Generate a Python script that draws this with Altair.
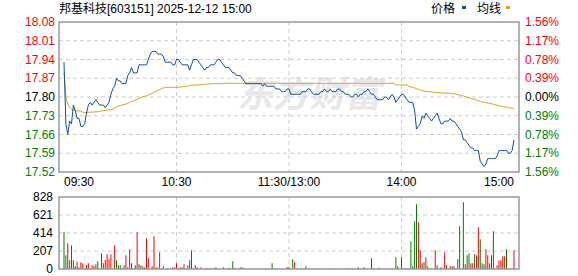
import altair as alt
import pandas as pd

# ---------------- data ----------------
minutes = list(range(241))

price = [
    17.93, 17.70, 17.66, 17.71, 17.70, 17.77, 17.75, 17.72, 17.72, 17.69,
    17.69, 17.70, 17.74, 17.77, 17.78, 17.77, 17.78, 17.79, 17.78, 17.77,
    17.77, 17.77, 17.76, 17.77, 17.78, 17.81, 17.83, 17.84, 17.87, 17.86,
    17.86, 17.85, 17.85, 17.85, 17.88, 17.89, 17.91, 17.89, 17.89, 17.89,
    17.92, 17.92, 17.92, 17.92, 17.92, 17.94, 17.96, 17.97, 17.97, 17.97,
    17.96, 17.96, 17.96, 17.95, 17.93, 17.93, 17.93, 17.93, 17.92, 17.92,
    17.94, 17.94, 17.93, 17.92, 17.92, 17.92, 17.92, 17.90, 17.92, 17.94,
    17.94, 17.94, 17.93, 17.92, 17.91, 17.90, 17.91, 17.91, 17.92, 17.92,
    17.92, 17.93, 17.94, 17.94, 17.93, 17.92, 17.91, 17.91, 17.91, 17.90,
    17.89, 17.89, 17.88, 17.88, 17.88, 17.87, 17.86, 17.85, 17.85, 17.85,
    17.85, 17.85, 17.85, 17.85, 17.85, 17.85, 17.84, 17.85, 17.84, 17.84,
    17.84, 17.84, 17.84, 17.83, 17.83, 17.83, 17.82, 17.82, 17.82, 17.83,
    17.83, 17.81, 17.81, 17.81, 17.81, 17.81, 17.81, 17.82, 17.82, 17.82,
    17.83, 17.83, 17.82, 17.81, 17.81, 17.81, 17.81, 17.82, 17.82, 17.83,
    17.82, 17.82, 17.83, 17.82, 17.82, 17.82, 17.83, 17.83, 17.82, 17.82,
    17.81, 17.81, 17.81, 17.80, 17.80, 17.81, 17.81, 17.80, 17.81, 17.81,
    17.82, 17.82, 17.83, 17.82, 17.81, 17.81, 17.80, 17.79, 17.79, 17.79,
    17.79, 17.80, 17.80, 17.79, 17.80, 17.81, 17.80, 17.78, 17.79, 17.80,
    17.81, 17.81, 17.80, 17.79, 17.78, 17.78, 17.78, 17.75, 17.68, 17.69,
    17.70, 17.73, 17.72, 17.74, 17.73, 17.72, 17.71, 17.72, 17.73, 17.74,
    17.72, 17.70, 17.70, 17.71, 17.71, 17.71, 17.72, 17.71, 17.71, 17.70,
    17.69, 17.68, 17.67, 17.64, 17.64, 17.63, 17.62, 17.61, 17.61, 17.60,
    17.60, 17.60, 17.56, 17.55, 17.54, 17.55, 17.57, 17.57, 17.57, 17.57,
    17.57, 17.58, 17.60, 17.60, 17.60, 17.60, 17.60, 17.59, 17.59, 17.60,
    17.64,
]

avg = [
    17.890, 17.800, 17.774, 17.762, 17.754, 17.752, 17.749, 17.748, 17.748, 17.747,
    17.743, 17.742, 17.742, 17.743, 17.743, 17.744, 17.744, 17.745, 17.745, 17.746,
    17.748, 17.749, 17.750, 17.752, 17.752, 17.753, 17.755, 17.758, 17.764, 17.766,
    17.768, 17.770, 17.771, 17.774, 17.776, 17.780, 17.783, 17.785, 17.788, 17.791,
    17.795, 17.799, 17.801, 17.803, 17.804, 17.808, 17.811, 17.814, 17.818, 17.821,
    17.825, 17.827, 17.831, 17.834, 17.835, 17.836, 17.836, 17.836, 17.836, 17.836,
    17.836, 17.836, 17.837, 17.838, 17.839, 17.840, 17.841, 17.842, 17.844, 17.844,
    17.845, 17.845, 17.846, 17.846, 17.847, 17.847, 17.848, 17.848, 17.849, 17.849,
    17.850, 17.850, 17.850, 17.850, 17.850, 17.851, 17.851, 17.851, 17.851, 17.851,
    17.851, 17.851, 17.851, 17.851, 17.851, 17.851, 17.851, 17.851, 17.851, 17.851,
    17.851, 17.851, 17.851, 17.851, 17.851, 17.851, 17.851, 17.851, 17.851, 17.851,
    17.851, 17.851, 17.851, 17.851, 17.851, 17.851, 17.851, 17.851, 17.851, 17.851,
    17.851, 17.851, 17.851, 17.851, 17.851, 17.851, 17.851, 17.851, 17.851, 17.851,
    17.851, 17.851, 17.851, 17.851, 17.851, 17.851, 17.851, 17.851, 17.851, 17.851,
    17.851, 17.851, 17.851, 17.851, 17.851, 17.851, 17.851, 17.851, 17.851, 17.851,
    17.851, 17.851, 17.851, 17.851, 17.851, 17.851, 17.851, 17.851, 17.851, 17.851,
    17.851, 17.851, 17.851, 17.851, 17.851, 17.851, 17.851, 17.851, 17.851, 17.851,
    17.851, 17.851, 17.851, 17.851, 17.851, 17.851, 17.851, 17.845, 17.845, 17.845,
    17.845, 17.845, 17.845, 17.845, 17.839, 17.838, 17.836, 17.834, 17.831, 17.829,
    17.826, 17.824, 17.822, 17.821, 17.820, 17.820, 17.819, 17.818, 17.817, 17.817,
    17.816, 17.816, 17.815, 17.815, 17.814, 17.814, 17.813, 17.813, 17.812, 17.811,
    17.809, 17.807, 17.806, 17.804, 17.801, 17.799, 17.797, 17.795, 17.793, 17.791,
    17.789, 17.786, 17.784, 17.781, 17.780, 17.779, 17.778, 17.776, 17.775, 17.773,
    17.771, 17.769, 17.767, 17.765, 17.764, 17.763, 17.762, 17.760, 17.759, 17.758,
    17.758,
]

volume = [
    429, 157, 295, 100, 272, 100, 31, 84, 19, 77,
    65, 4, 42, 65, 8, 42, 35, 54, 88, 4,
    180, 65, 103, 169, 111, 169, 4, 272, 100, 42,
    42, 8, 42, 157, 19, 226, 65, 8, 42, 422,
    54, 42, 31, 19, 353, 123, 4, 31, 376, 19,
    19, 192, 8, 31, 4, 8, 4, 4, 19, 19,
    65, 8, 19, 19, 54, 4, 42, 100, 215, 8,
    42, 19, 4, 19, 4, 4, 8, 4, 8, 4,
    8, 19, 8, 4, 4, 19, 4, 4, 15, 8,
    88, 15, 4, 4, 19, 19, 8, 4, 4, 4,
    4, 4, 4, 4, 4, 4, 4, 4, 4, 4,
    4, 65, 8, 4, 4, 4, 4, 4, 4, 23,
    19, 8, 111, 77, 4, 4, 4, 4, 4, 31,
    4, 4, 4, 4, 8, 4, 4, 4, 4, 4,
    4, 4, 4, 4, 4, 4, 4, 4, 4, 4,
    4, 8, 8, 4, 4, 4, 4, 19, 4, 4,
    19, 4, 4, 4, 123, 8, 4, 4, 15, 4,
    4, 4, 4, 4, 4, 4, 8, 134, 31, 4,
    134, 8, 8, 4, 4, 318, 31, 548, 744, 537,
    215, 65, 77, 134, 31, 4, 4, 4, 215, 42,
    4, 19, 4, 192, 42, 4, 31, 31, 31, 8,
    111, 491, 4, 767, 54, 157, 180, 65, 65, 169,
    157, 479, 341, 65, 54, 226, 157, 65, 157, 433,
    4, 42, 100, 100, 146, 146, 226, 4, 4, 4,
    215,
]

# R = up (red bar), G = down (green bar)
vol_dir = (
    "GGRGRGGRGR" "RRRRGRRGGR" "RGRRRRRRGG" "GGRRGRGRGR" "GGRRRRRRRG"
    "RRGGRRGRRR" "RGRGRGGGRG" "RRGGRRRRRR" "GRRGRGGRRG" "GGGGGGGRRR"
    "RRRRRRRRRR" "RGGRGGRGRR" "RGGRGGGGGR" "GGRGGRRRRR" "RRRRRRRRGR"
    "GRRGGRGRRG" "GGRGGRRRRR" "GRRRGGGGRR" "RGGRGGGGGR" "RRGRGGRRRR"
    "GGRRRGRGRR" "GGGGRGGRRG" "RRGGGRRRRG" "RRRRRRGGRR" "R"
)

prev_close = 17.80
price_ticks = [18.08, 18.01, 17.94, 17.87, 17.80, 17.73, 17.66, 17.59, 17.52]
pct_labels = ["1.56%", "1.17%", "0.78%", "0.39%", "0.00%", "0.39%", "0.78%", "1.17%", "1.56%"]
vol_ticks = [828, 621, 414, 207, 0]
time_pos = [0, 60, 120, 180, 240]
time_labels = ["09:30", "10:30", "11:30/13:00", "14:00", "15:00"]
title_text = "邦基科技[603151] 2025-12-12 15:00"
legend_labels = ["价格", "均线"]

# ---------------- styling ----------------
W, H = 460, 248
P_TOP, P_BOT = 0, 150
V_TOP, V_BOT = 175, 247
RED, GREEN, BLACK = "#ff0000", "#008000", "#000000"
BLUE, GOLD = "#0f4fa0", "#dca21c"
GRID, FRAME = "#cccccc", "#999999"
FONT = "Liberation Sans, Arial, 'Noto Sans CJK SC', sans-serif"
CJK = "'Noto Sans CJK SC', sans-serif"

xs = alt.Scale(domain=[0, 240], nice=False, zero=False)
ps = alt.Scale(domain=[17.52, 18.08], range=[P_BOT, P_TOP], nice=False, zero=False)
vs = alt.Scale(domain=[0, 828], range=[V_BOT, V_TOP], nice=False, zero=True)

df = pd.DataFrame({"m": minutes, "price": price, "avg": avg, "vol": volume,
                   "dir": list(vol_dir)})
df["vcolor"] = df["dir"].map({"R": RED, "G": GREEN})

def lvl_color(p):
    if p > prev_close + 1e-9:
        return RED
    if p < prev_close - 1e-9:
        return GREEN
    return BLACK

tick_df = pd.DataFrame({"p": price_ticks, "pct": pct_labels})
tick_df["label"] = [f"{v:.2f}" for v in price_ticks]
tick_df["color"] = [lvl_color(p) for p in price_ticks]
inner_df = tick_df.iloc[1:-1]

vt_df = pd.DataFrame({"v": vol_ticks, "label": [str(v) for v in vol_ticks]})
vgrid_df = pd.DataFrame({"v": vol_ticks[1:-1]})
time_df = pd.DataFrame({"m": time_pos, "label": time_labels})
one = pd.DataFrame({"a": [0]})

X = alt.X("m:Q", scale=xs, axis=None)

watermark = alt.Chart(one).mark_text(
    text="东方财富", font=CJK, fontSize=36, fontWeight="bold", fontStyle="italic",
    color="#e8e8ec", align="center", baseline="middle"
).encode(x=alt.value(250), y=alt.value(74))

hgrid = alt.Chart(inner_df).mark_rule(stroke=GRID, strokeDash=[4, 3], strokeWidth=1).encode(
    y=alt.Y("p:Q", scale=ps, axis=None), x=alt.value(0), x2=alt.value(W))
vgrid_p = alt.Chart(time_df.iloc[1:4]).mark_rule(stroke=GRID, strokeDash=[4, 3], strokeWidth=1).encode(
    x=X, y=alt.value(P_TOP), y2=alt.value(P_BOT))
vgrid_v = alt.Chart(time_df.iloc[1:4]).mark_rule(stroke=GRID, strokeDash=[4, 3], strokeWidth=1).encode(
    x=X, y=alt.value(V_TOP), y2=alt.value(V_BOT))
hgrid_v = alt.Chart(vgrid_df).mark_rule(stroke=GRID, strokeDash=[4, 3], strokeWidth=1).encode(
    y=alt.Y("v:Q", scale=vs, axis=None), x=alt.value(0), x2=alt.value(W))

bars = alt.Chart(df).mark_bar(width=1).encode(
    x=X, y=alt.Y("vol:Q", scale=vs, axis=None),
    color=alt.Color("vcolor:N", scale=None))

avg_line = alt.Chart(df).mark_line(color=GOLD, strokeWidth=1).encode(
    x=X, y=alt.Y("avg:Q", scale=ps, axis=None))
price_line = alt.Chart(df).mark_line(color=BLUE, strokeWidth=1).encode(
    x=X, y=alt.Y("price:Q", scale=ps, axis=None))

frame_p = alt.Chart(one).mark_rect(fillOpacity=0, stroke=FRAME, strokeWidth=1.5).encode(
    x=alt.value(0), x2=alt.value(W), y=alt.value(P_TOP), y2=alt.value(P_BOT))
frame_v = alt.Chart(one).mark_rect(fillOpacity=0, stroke=FRAME, strokeWidth=1.5).encode(
    x=alt.value(0), x2=alt.value(W), y=alt.value(V_TOP), y2=alt.value(V_BOT))

left_lbl = alt.Chart(tick_df).mark_text(align="right", baseline="middle", font=FONT, fontSize=12).encode(
    x=alt.value(-4), y=alt.Y("p:Q", scale=ps, axis=None), text="label:N",
    color=alt.Color("color:N", scale=None))
right_lbl = alt.Chart(tick_df).mark_text(align="left", baseline="middle", font=FONT, fontSize=12).encode(
    x=alt.value(W + 6), y=alt.Y("p:Q", scale=ps, axis=None), text="pct:N",
    color=alt.Color("color:N", scale=None))
vol_lbl = alt.Chart(vt_df).mark_text(align="right", baseline="middle", font=FONT, fontSize=12,
                                     color=BLACK).encode(
    x=alt.value(-6), y=alt.Y("v:Q", scale=vs, axis=None), text="label:N")

t_left = alt.Chart(time_df.iloc[[0]]).mark_text(align="left", baseline="middle", font=FONT,
                                                fontSize=12, color=BLACK).encode(
    x=X, y=alt.value(160), text="label:N")
t_mid = alt.Chart(time_df.iloc[1:4]).mark_text(align="center", baseline="middle", font=FONT,
                                               fontSize=12, color=BLACK).encode(
    x=X, y=alt.value(160), text="label:N")
t_right = alt.Chart(time_df.iloc[[4]]).mark_text(align="right", baseline="middle", font=FONT,
                                                 fontSize=12, color=BLACK).encode(
    x=X, y=alt.value(160), text="label:N")

title = alt.Chart(one).mark_text(text=title_text, align="left", baseline="alphabetic", font=FONT,
                                 fontSize=12, color=BLACK).encode(
    x=alt.value(0), y=alt.value(-9))

leg_df = pd.DataFrame({"label": legend_labels, "px": [372, 418]})
leg_txt = alt.Chart(leg_df).mark_text(align="left", baseline="alphabetic", font=CJK, fontSize=12,
                                      color=BLACK).encode(
    x=alt.X("px:Q", scale=None), y=alt.value(-9), text="label:N")
leg_blue = alt.Chart(one).mark_rect(color=BLUE).encode(
    x=alt.value(403), x2=alt.value(407), y=alt.value(-16), y2=alt.value(-13))
leg_gold = alt.Chart(one).mark_rect(color=GOLD).encode(
    x=alt.value(447), x2=alt.value(451), y=alt.value(-16), y2=alt.value(-13))

chart = alt.layer(
    watermark, hgrid, vgrid_p, vgrid_v, hgrid_v, bars, avg_line, price_line,
    frame_p, frame_v, left_lbl, right_lbl, vol_lbl, t_left, t_mid, t_right,
    title, leg_txt, leg_blue, leg_gold
).resolve_scale(y="independent", x="shared").properties(
    width=W, height=H,
    autosize=alt.AutoSizeParams(type="none"),
    padding={"left": 59, "top": 22, "right": 59, "bottom": 6},
    background="white",
).configure_view(stroke=None)

chart.save("out.html", embed_options={"renderer": "svg", "actions": False})
